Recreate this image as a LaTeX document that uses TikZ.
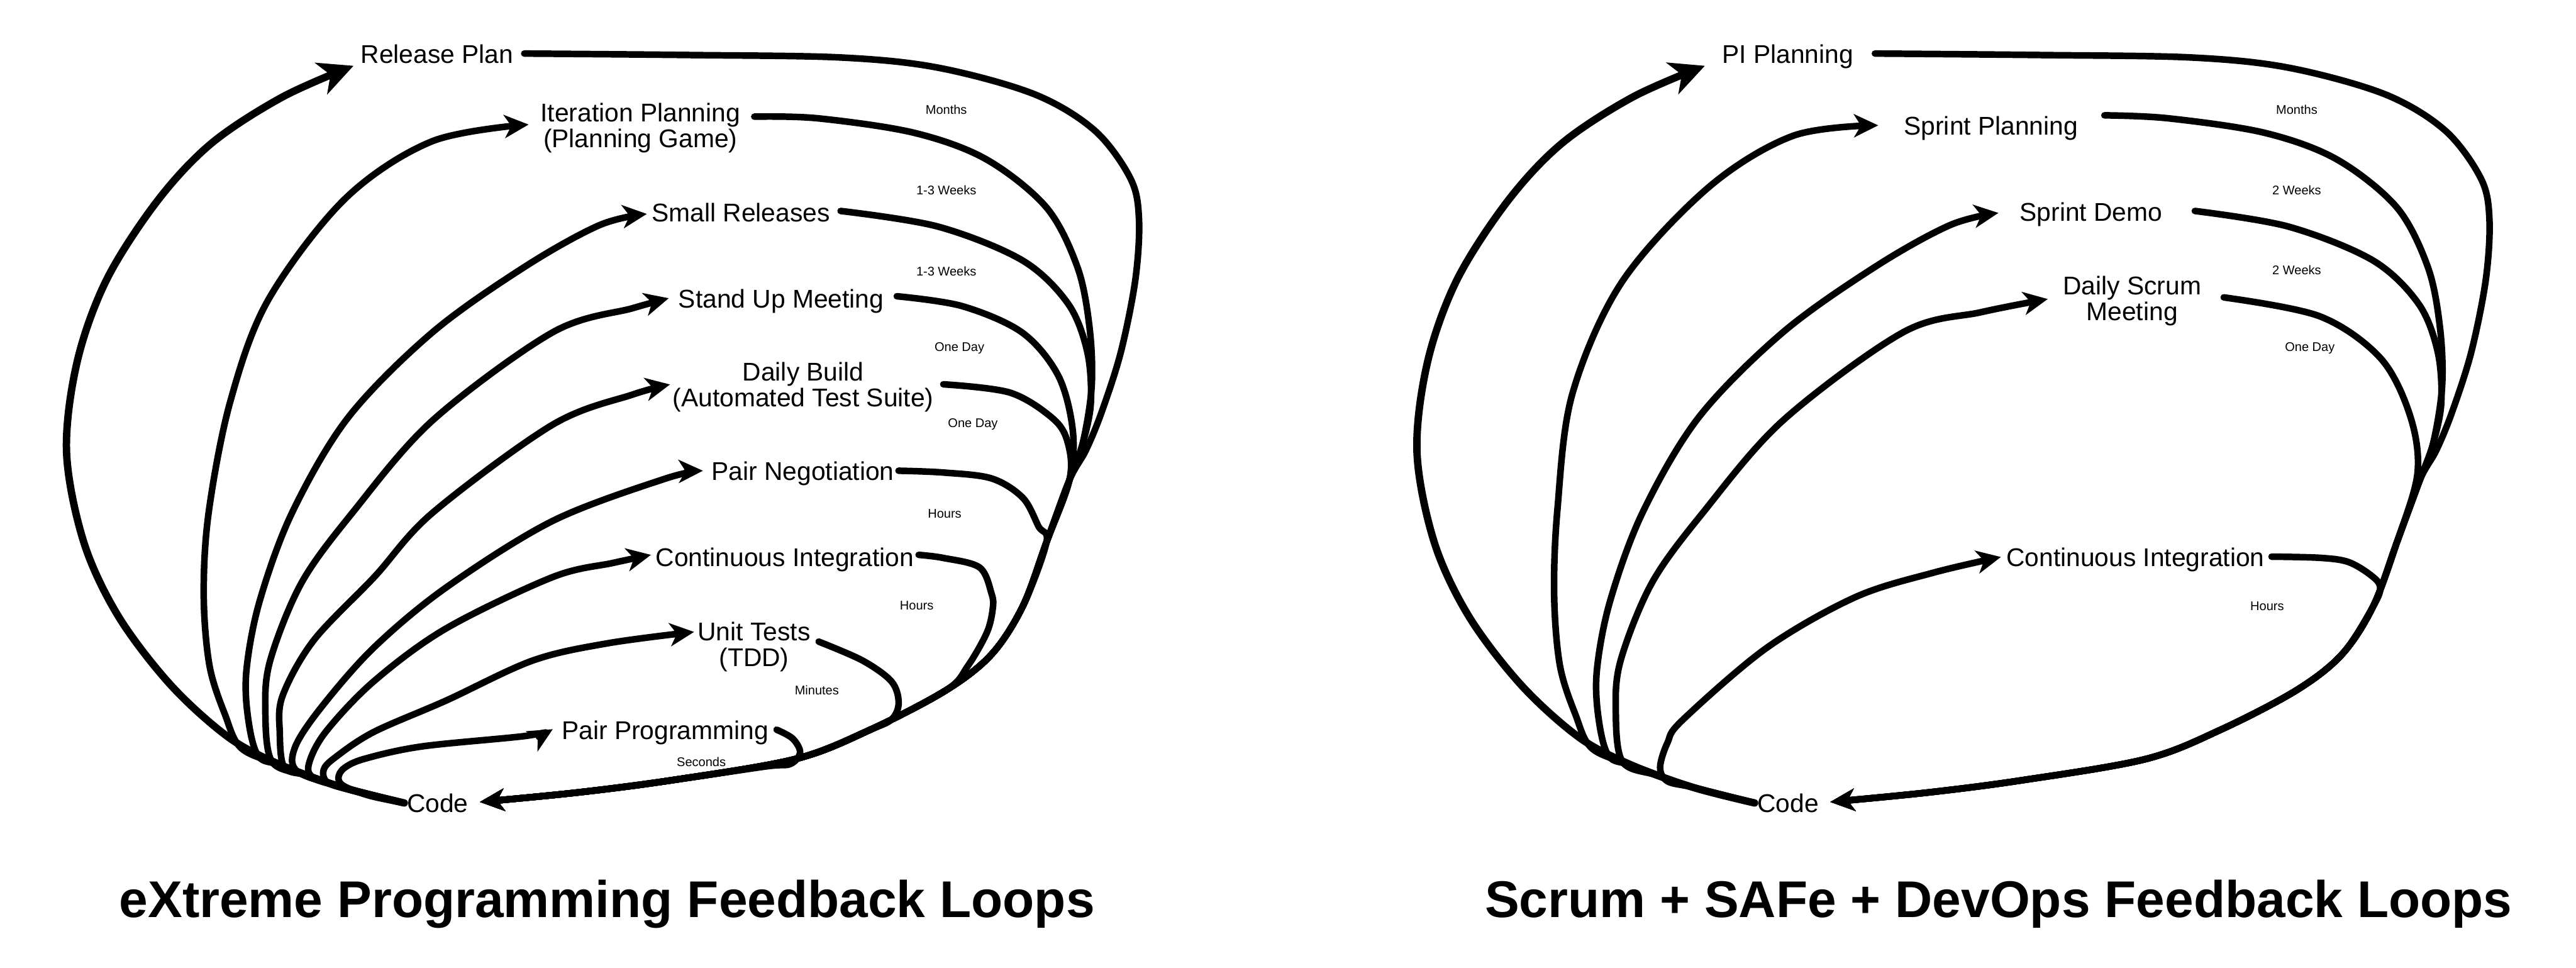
\documentclass[tikz,border=0pt]{standalone}
\usepackage{fontspec}
\setmainfont{Liberation Sans}
\usetikzlibrary{arrows.meta}
\begin{document}
\begin{tikzpicture}[x=0.025cm,y=-0.025cm,
  lbl/.style={font=\fontsize{11.1}{11.1}\selectfont, inner sep=1pt, text height=8.2pt, text depth=0pt},
  lbltwo/.style={font=\fontsize{11.1}{11.1}\selectfont, inner sep=1pt, align=center},
  tim/.style={font=\fontsize{5.45}{6}\selectfont, inner sep=0pt, text height=3.95pt, text depth=0pt},
  ttl/.style={font=\fontsize{22.35}{24}\selectfont\bfseries, inner sep=0pt, anchor=base},
  larm/.style={line width=2.85pt, line cap=round, line join=round, -{Stealth[length=10.5pt,width=10pt,inset=3pt]}},
  bigarm/.style={line width=3.2pt, line cap=round, line join=round, -{Stealth[length=15pt,width=14.5pt,inset=4.3pt]}},
  rarm/.style={line width=2.85pt, line cap=round, line join=round, -{Stealth[length=10.5pt,width=9.6pt,inset=3pt]}},
  sm/.style={smooth, tension=0.55}
]
\useasboundingbox (0,0) rectangle (1568,588.8);

% ---------- left diagram nodes
\node[lbl] (RP) at (266,32.6) {Release Plan};
\node[lbltwo] (IP) at (389.8,77.9) {Iteration Planning\\(Planning Game)};
\node[lbl] (SR) at (451,129) {Small Releases};
\node[lbl] (SU) at (475.5,181.5) {Stand Up Meeting};
\node[lbltwo] (DB) at (488.9,235.6) {Daily Build\\(Automated Test Suite)};
\node[lbl] (PN) at (488.7,286.5) {Pair Negotiation};
\node[lbl] (CI) at (477.7,339) {Continuous Integration};
\node[lbltwo] (UT) at (459,393.6) {Unit Tests\\(TDD)};
\node[lbl] (PP) at (404.9,444.1) {Pair Programming};
\node[lbl] (CD) at (266.4,488.7) {Code};

% ---------- right diagram nodes
\node[lbl] (PI) at (1088.25,32.6) {PI Planning};
\node[lbl] (SP) at (1211.9,76.5) {Sprint Planning};
\node[lbl] (SD) at (1272.8,128.8) {Sprint Demo};
\node[lbltwo] (DS) at (1297.8,183.2) {Daily Scrum\\Meeting};
\node[lbl] (CJ) at (1299.8,339) {Continuous Integration};
\node[lbl] (CE) at (1088.35,488.7) {Code};

% ---------- time labels
\node[tim] (m1) at (576,66.8) {Months};
\node[tim] (w1) at (576,115.8) {1-3 Weeks};
\node[tim] (w2) at (576,165) {1-3 Weeks};
\node[tim] (d1) at (584,211) {One Day};
\node[tim] (d2) at (592.2,257.3) {One Day};
\node[tim] (h1) at (575,312.6) {Hours};
\node[tim] (h2) at (558,368.3) {Hours};
\node[tim] (mi) at (497.2,419.9) {Minutes};
\node[tim] (se) at (426.9,463.5) {Seconds};
\node[tim] (m2) at (1398,66.8) {Months};
\node[tim] (x1) at (1398,115.7) {2 Weeks};
\node[tim] (x2) at (1398,164.5) {2 Weeks};
\node[tim] (d3) at (1406,211) {One Day};
\node[tim] (h3) at (1380,368.8) {Hours};

% ---------- titles
\node[ttl] (T1) at (369.5,558.3) {eXtreme Programming Feedback Loops};
\node[ttl] (T2) at (1216.5,558.3) {Scrum + SAFe + DevOps Feedback Loops};

% ---------- connector ends
\coordinate (rpT) at ([shift={(-2.7,0)}]RP.south west);
\coordinate (rpS) at ([shift={(5,0)}]RP.east);
\coordinate (ipT) at ([shift={(-5.6,-2.1)}]IP.west);
\coordinate (ipS) at ([shift={(6.9,-6.9)}]IP.east);
\coordinate (srT) at ([shift={(-1.35,1.2)}]SR.west);
\coordinate (srS) at ([shift={(4.75,-0.6)}]SR.east);
\coordinate (suT) at ([shift={(-4.3,0)}]SU.west);
\coordinate (suS) at ([shift={(6.2,-1.2)}]SU.east);
\coordinate (dbT) at ([shift={(0,-1.6)}]DB.west);
\coordinate (dbS) at ([shift={(4.2,-1.7)}]DB.east);
\coordinate (pnT) at ([shift={(-3.6,0)}]PN.west);
\coordinate (pnS) at ([shift={(1,0)}]PN.east);
\coordinate (ciT) at ([shift={(-1.25,-1.3)}]CI.west);
\coordinate (ciS) at ([shift={(1.25,-1.3)}]CI.east);
\coordinate (utT) at ([shift={(-0.55,-9)}]UT.west);
\coordinate (utS) at ([shift={(3.35,-3.1)}]UT.east);
\coordinate (ppT) at ([shift={(-3.85,-0.3)}]PP.west);
\coordinate (ppS) at ([shift={(3.25,0)}]PP.east);
\coordinate (cdT) at ([shift={(5.4,-0.6)}]CD.east);
\coordinate (piT) at ([shift={(-8.9,0)}]PI.south west);
\coordinate (piS) at ([shift={(11.4,0)}]PI.east);
\coordinate (spT) at ([shift={(-14,-0.2)}]SP.west);
\coordinate (spS) at ([shift={(14.4,-6.3)}]SP.east);
\coordinate (sdT) at ([shift={(-11.3,0.8)}]SD.west);
\coordinate (sdS) at ([shift={(18.1,-0.4)}]SD.east);
\coordinate (dsT) at ([shift={(-7.6,-1.2)}]DS.west);
\coordinate (dsS) at ([shift={(12,-2.2)}]DS.east);
\coordinate (cjT) at ([shift={(-1.65,0)}]CJ.west);
\coordinate (cjS) at ([shift={(2.65,-0.2)}]CJ.east);
\coordinate (ceT) at ([shift={(5.4,-0.6)}]CE.east);

% ================= LEFT DIAGRAM: Code -> node (left arms)
\draw[bigarm] plot[sm] coordinates {(CD.west) (208.5,479.2) (171.9,466) (139.6,449.1) (104,417) (72,375) (51,330) (40.5,275) (47,220) (65,170) (96,122) (129,87) (172,59) (rpT)};
\draw[larm] plot[sm] coordinates {(CD.west) (208.5,479.2) (171.9,466) (147,455.5) (137,435) (127.5,405) (124,362) (127,312) (140,245) (163,183) (210,121) (263,86) (ipT)};
\draw[larm] plot[sm] coordinates {(CD.west) (208.5,479.2) (171.9,466) (157.2,460.1) (151,437) (150,408) (158,366) (177.8,312) (212,254) (263.3,202.2) (320,162) (365,137) (srT)};
\draw[larm] plot[sm] coordinates {(CD.west) (208.5,479.2) (186.5,471.8) (165.5,463.5) (161.5,432) (164.6,401.5) (183.6,354.6) (214.5,312.1) (263.3,255.9) (336.5,202.2) (385,187.6) (suT)};
\draw[larm] plot[sm] coordinates {(CD.west) (208.5,479.2) (186.5,471.8) (173,467) (170.3,446) (172,423.5) (190.9,389.8) (228,351) (263.3,312.1) (336.5,258.4) (385.2,240.1) (dbT)};
\draw[larm] plot[sm] coordinates {(CD.west) (208.5,479.2) (181,469.5) (179.5,455) (195.3,430.8) (227.5,394.2) (271.5,357.6) (336.5,317) (404.7,291.4) (pnT)};
\draw[larm] plot[sm] coordinates {(CD.west) (208.5,479.2) (191,473.5) (188,465) (198.2,445.5) (227.5,414.7) (271.5,382.5) (336.5,351.2) (373.2,342.6) (ciT)};
\draw[larm] plot[sm] coordinates {(CD.west) (212,480.5) (199,476) (197,468.5) (204,461) (227.5,445.5) (271.5,426.4) (324.3,402) (370,391.5) (utT)};
\draw[larm] plot[sm] coordinates {(CD.west) (225,484.3) (209.5,478.5) (206,473.5) (209.5,467.5) (222,461.8) (256.8,454.3) (320,447.9) (ppT)};

% ================= LEFT DIAGRAM: node -> Code (right arms)
\draw[rarm] plot[sm] coordinates {(rpS) (420,33.5) (512,35) (571,41.2) (629.5,57.3) (666.2,79.3) (688.1,108.6) (693.3,133.5) (691.1,170.1) (682.3,214.1) (670.6,250.7) (661,274) (651,292) (637,330) (622.6,368.9) (603.6,398.2) (576,420) (530,444) (484,462) (408,475) (350,482.5) (cdT)};
\draw[rarm] plot[sm] coordinates {(ipS) (497.7,72) (556.3,80.8) (600.2,96.9) (636.9,126.2) (655.9,162.8) (663.2,199.4) (664.5,235) (659,270) (651,292) (637,330) (622.6,368.9) (603.6,398.2) (576,420) (530,444) (484,462) (408,475) (350,482.5) (cdT)};
\draw[rarm] plot[sm] coordinates {(srS) (570.9,137.9) (622.2,158.4) (650.1,184.8) (661.8,214.1) (664,245) (659,270) (651,292) (637,330) (622.6,368.9) (603.6,398.2) (576,420) (530,444) (484,462) (408,475) (350,482.5) (cdT)};
\draw[rarm] plot[sm] coordinates {(suS) (585.6,186.3) (622.2,202.4) (644.2,228.7) (653,262) (651,292) (637,330) (622.6,368.9) (603.6,398.2) (576,420) (530,444) (484,462) (408,475) (350,482.5) (cdT)};
\draw[rarm] plot[sm] coordinates {(dbS) (614.9,239) (641.3,255.1) (650.1,270) (651,292) (637,330) (622.6,368.9) (603.6,398.2) (576,420) (530,444) (484,462) (408,475) (350,482.5) (cdT)};
\draw[rarm] plot[sm] coordinates {(pnS) (574.3,287.6) (603.6,291.2) (622.6,303) (632.2,320.5) (637,330) (622.6,368.9) (603.6,398.2) (576,420) (530,444) (484,462) (408,475) (350,482.5) (cdT)};
\draw[rarm] plot[sm] coordinates {(ciS) (574.3,339.6) (596.3,345.4) (603.6,361.5) (604.3,370.3) (600.7,385) (589,405.5) (576,420) (530,444) (484,462) (408,475) (350,482.5) (cdT)};
\draw[rarm] plot[sm] coordinates {(utS) (525,402) (542.6,414.7) (547,427.5) (543,437.5) (530,444) (484,462) (408,475) (350,482.5) (cdT)};
\draw[rarm] plot[sm] coordinates {(ppS) (482.5,449.5) (487,458) (481,465) (466,466.5) (408,475) (350,482.5) (cdT)};

% ================= RIGHT DIAGRAM (same geometry shifted)
\begin{scope}[shift={(822,0)}]
\draw[bigarm] plot[sm] coordinates {(CE.west) (208.5,479.2) (171.9,466) (139.6,449.1) (104,417) (72,375) (51,330) (40.5,275) (47,220) (65,170) (96,122) (129,87) (172,59) (piT)};
\draw[larm] plot[sm] coordinates {(CE.west) (208.5,479.2) (171.9,466) (147,455.5) (137,435) (127.5,405) (124,362) (126,310) (135,240) (165,172) (218,114) (269.6,82.6) (spT)};
\draw[larm] plot[sm] coordinates {(CE.west) (208.5,479.2) (171.9,466) (157.2,460.1) (151,437) (150,408) (158,366) (177.8,312) (212,254) (263.3,202.2) (320,162) (365,137) (sdT)};
\draw[larm] plot[sm] coordinates {(CE.west) (208.5,479.2) (186.5,471.8) (165.5,463.5) (161.5,432) (164.6,401.5) (183.6,354.6) (214.5,312.1) (263.3,255.9) (336.5,202.2) (383.9,190) (dsT)};
\draw[larm] plot[sm] coordinates {(CE.west) (208.5,479.2) (193,475.5) (188.5,467) (193,452) (202.2,438.2) (253.5,394.2) (307.4,363.4) (355,348.5) (cjT)};

\draw[rarm] plot[sm] coordinates {(piS) (420,33.5) (512,35) (571,41.2) (629.5,57.3) (666.2,79.3) (688.1,108.6) (693.3,133.5) (691.1,170.1) (682.3,214.1) (670.6,250.7) (661,274) (651,292) (637,330) (622.6,368.9) (603.6,398.2) (576,420) (530,444) (484,462) (408,475) (350,482.5) (ceT)};
\draw[rarm] plot[sm] coordinates {(spS) (497.7,72) (556.3,80.8) (600.2,96.9) (636.9,126.2) (655.9,162.8) (663.2,199.4) (664.5,235) (659,270) (651,292) (637,330) (622.6,368.9) (603.6,398.2) (576,420) (530,444) (484,462) (408,475) (350,482.5) (ceT)};
\draw[rarm] plot[sm] coordinates {(sdS) (570.9,137.9) (622.2,158.4) (650.1,184.8) (661.8,214.1) (664,245) (659,270) (651,292) (637,330) (622.6,368.9) (603.6,398.2) (576,420) (530,444) (484,462) (408,475) (350,482.5) (ceT)};
\draw[rarm] plot[sm] coordinates {(dsS) (590,192.5) (627,218) (645,253) (649.5,288) (637,330) (622.6,368.9) (603.6,398.2) (576,420) (530,444) (484,462) (408,475) (350,482.5) (ceT)};
\draw[rarm] plot[sm] coordinates {(cjS) (590,339.5) (607.3,342) (621,350) (626.8,357.3) (622.6,368.9) (603.6,398.2) (576,420) (530,444) (484,462) (408,475) (350,482.5) (ceT)};
\end{scope}
\end{tikzpicture}
\end{document}
